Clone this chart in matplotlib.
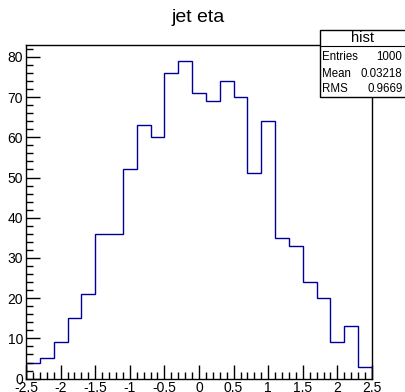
import numpy as np
import matplotlib
matplotlib.use("Agg")
import matplotlib.pyplot as plt
from matplotlib.ticker import MultipleLocator

plt.rcParams['font.family'] = ['Liberation Sans', 'DejaVu Sans']

bin_edges = np.linspace(-2.5, 2.5, 26)
counts = [4, 5, 9, 15, 21, 36, 36, 52, 63, 60, 76, 79, 71, 69, 74, 70, 51, 64, 35, 33, 24, 20, 9, 13, 3]
x_ticks = [-2.5, -2, -1.5, -1, -0.5, 0, 0.5, 1, 1.5, 2, 2.5]
x_tick_labels = ["-2.5", "-2", "-1.5", "-1", "-0.5", "0", "0.5", "1", "1.5", "2", "2.5"]
y_ticks = [0, 10, 20, 30, 40, 50, 60, 70, 80]
title = "jet eta"
stats_name = "hist"
stats_rows = [("Entries", "1000"), ("Mean", "0.03218"), ("RMS", "0.9669")]

W, H = 405, 392
fig = plt.figure(figsize=(W / 100, H / 100), dpi=100)
L, R, B, T = 26 / W, 372 / W, 1 - 378.6 / H, 1 - 45 / H
ax = fig.add_axes([L, B, R - L, T - B])

ax.stairs(counts, bin_edges, color='#000099', linewidth=1.0)
ax.set_xlim(-2.5, 2.5)
ax.set_ylim(0, 79 * 1.05)

ax.set_xticks(x_ticks)
ax.set_xticklabels(x_tick_labels)
ax.set_yticks(y_ticks)
ax.xaxis.set_minor_locator(MultipleLocator(0.1))
ax.yaxis.set_minor_locator(MultipleLocator(2))
ax.tick_params(which='major', direction='in', length=10, width=1, labelsize=10, pad=2, colors='black')
ax.tick_params(which='minor', direction='in', length=5, width=1)
ax.tick_params(top=False, right=False, which='both')
for s in ax.spines.values():
    s.set_linewidth(1.0)
    s.set_color('black')

fig.text(198 / W, 1 - 18 / H, title, ha='center', va='center', fontsize=14)

# stats box
bx0, bx1, by0, by1, bhy = 319.5, 405.5, 29.7, 96.7, 46
box_ax = fig.add_axes([0, 0, 1, 1], facecolor='none')
box_ax.set_xlim(0, W)
box_ax.set_ylim(H, 0)
box_ax.axis('off')
box_ax.add_patch(plt.Rectangle((bx0, by0), bx1 - bx0, by1 - by0, facecolor='white', edgecolor='black', linewidth=1.0, clip_on=False))
box_ax.plot([bx0, bx1], [bhy, bhy], color='black', linewidth=0.8)
box_ax.text(363, (by0 + bhy) / 2 + 0.5, stats_name, ha='center', va='center', fontsize=10.5)
row_y = [57.3, 74.2, 89.3]
for (lab, val), yy in zip(stats_rows, row_y):
    box_ax.text(bx0 + 2.5, yy, lab, ha='left', va='center', fontsize=8.3)
    box_ax.text(402.5, yy, val, ha='right', va='center', fontsize=8.3)

fig.savefig("out.png", dpi=100)
